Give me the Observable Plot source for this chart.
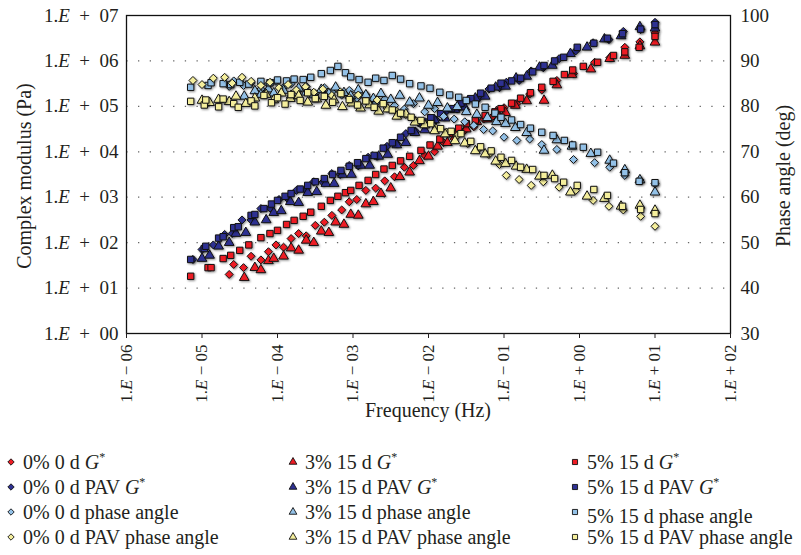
<!DOCTYPE html>
<html>
<head>
<meta charset="utf-8">
<script src="https://cdn.jsdelivr.net/npm/d3@7"></script>
<script src="https://cdn.jsdelivr.net/npm/@observablehq/plot@0.6"></script>
<style>
  body { margin: 0; background: #fff; }
  #chart { position: relative; width: 801px; height: 555px; overflow: hidden;
           font-family: "Liberation Serif", "DejaVu Serif", serif; color: #231f20; }
  #chart svg.layer { position: absolute; left: 0; top: 0; }
  .title { position: absolute; font-size: 20px; white-space: nowrap; transform: translate(-50%, -50%); }
  .title.vert { transform: translate(-50%, -50%) rotate(-90deg); }
  .item { position: absolute; font-size: 20px; white-space: nowrap; line-height: 1; transform: translateY(-50%); }
  .item sup { font-size: 12px; vertical-align: 8px; line-height: 0; }
  .mk { position: absolute; }
</style>
</head>
<body>
<div id="chart"></div>
<script>
// Frequencies are stored as log10(Hz), moduli as log10(Pa), phase angles in degrees.

// 0% 0 d (diamonds)
const lfA = [-4.64,-4.58,-4.45,-4.35,-4.22,-4.12,-4.02,-3.92,-3.82,-3.72,-3.62,-3.5,-3.38,-3.28,-3.15,-3.05,-2.95,-2.83,-2.7,-2.58,-2.45,-2.32,-2.2,-2.05,-1.92,-1.8,-1.66,-1.52,-1.4,-1.27,-1.15,-1.0,-0.83,-0.66,-0.5,-0.3,-0.08,0.2,0.4,0.6,0.8,1.0];
const gA = [1.3,1.52,1.45,1.7,1.62,1.8,1.95,1.9,2.09,2.2,2.15,2.38,2.45,2.6,2.72,2.9,2.95,3.15,3.2,3.36,3.45,3.66,3.7,3.92,4.0,4.2,4.28,4.47,4.55,4.72,4.78,4.97,5.06,5.27,5.36,5.57,5.72,5.97,6.07,6.3,6.42,6.62];
const phA = [84.4,85.6,84.6,85.2,83.8,84.9,85.5,84.2,85,83.6,84.4,82.8,84.1,83.2,82.5,83.5,81.8,82.6,80.7,81.6,80.2,79.4,80.6,78.8,79.5,77.8,77.2,76.6,75.8,74.9,74.6,73.2,72.5,72.8,71.6,70.5,68.3,67.6,66.6,64.8,63.8,63];

// 0% 0 d PAV (diamonds)
const lfB = [-5.12,-5.0,-4.85,-4.7,-4.6,-4.47,-4.35,-4.22,-4.1,-3.98,-3.86,-3.75,-3.63,-3.52,-3.4,-3.28,-3.17,-3.05,-2.93,-2.8,-2.68,-2.55,-2.42,-2.3,-2.17,-2.04,-1.9,-1.76,-1.62,-1.48,-1.34,-1.2,-1.06,-0.97,-0.8,-0.64,-0.48,-0.27,-0.05,0.18,0.39,0.58,0.81,1.0];
const gB = [1.63,1.85,1.95,2.18,2.2,2.5,2.5,2.75,2.76,2.95,2.96,3.15,3.16,3.34,3.33,3.52,3.5,3.7,3.69,3.88,3.9,4.12,4.18,4.4,4.45,4.66,4.7,4.9,4.94,5.14,5.18,5.38,5.41,5.53,5.57,5.78,5.85,6.05,6.22,6.4,6.47,6.65,6.69,6.85];
const phB = [85.7,84.8,86.2,86.4,85.1,86.4,85.5,84.6,85.3,84.1,84.8,83.6,84.3,83.1,83.8,82.4,83.2,81.9,82.5,80.8,81.4,79.6,78.9,78.2,76.9,76.1,75.2,74.3,73.6,71.8,70.6,69.4,67.2,64.8,63.9,62.6,63.4,62.2,61.5,59.3,58,57.2,55.8,53.6];

// 3% 15 d (triangles)
const lfC = [-4.44,-4.3,-4.22,-4.12,-4.05,-3.92,-3.82,-3.72,-3.62,-3.52,-3.42,-3.32,-3.23,-3.12,-3.03,-2.93,-2.83,-2.73,-2.63,-2.5,-2.38,-2.25,-2.12,-2.0,-1.88,-1.75,-1.62,-1.5,-1.36,-1.22,-1.1,-0.98,-0.85,-0.7,-0.47,-0.3,-0.1,0.15,0.4,0.6,0.8,1.0];
const gC = [1.23,1.45,1.4,1.6,1.65,1.7,1.88,1.83,2.05,2.0,2.25,2.22,2.45,2.4,2.62,2.6,2.85,2.9,3.08,3.2,3.45,3.55,3.8,3.9,4.12,4.2,4.43,4.5,4.66,4.72,4.88,4.86,5.02,5.12,5.13,5.47,5.7,5.82,6.05,6.12,6.33,6.41];
const phC = [82.2,83.4,82.6,83.8,82.9,83.5,82.4,84,83.1,82.5,83.7,82.8,84.2,83,82.3,83.6,82.5,81.7,82.8,81.5,82.4,80.9,81.8,80.2,80.8,79.6,79.9,78.8,78.2,77.5,76.6,76.2,75.3,74.2,70.3,72.6,71.2,69.6,68.1,66,63.8,61.1];

// 3% 15 d PAV (triangles)
const lfD = [-5.0,-4.9,-4.78,-4.64,-4.55,-4.42,-4.3,-4.15,-4.05,-3.95,-3.83,-3.72,-3.6,-3.48,-3.36,-3.25,-3.14,-3.02,-2.9,-2.78,-2.66,-2.54,-2.42,-2.3,-2.18,-2.05,-1.92,-1.78,-1.65,-1.52,-1.38,-1.25,-1.11,-0.98,-0.84,-0.7,-0.53,-0.36,-0.12,0.1,0.33,0.55,0.8,1.0];
const gD = [1.65,1.72,1.92,2.0,2.2,2.22,2.45,2.5,2.66,2.7,2.9,2.88,3.1,3.12,3.3,3.3,3.5,3.5,3.7,3.7,3.9,3.94,4.15,4.2,4.42,4.48,4.7,4.74,4.93,4.98,5.18,5.22,5.42,5.44,5.62,5.66,5.86,5.9,6.16,6.3,6.48,6.55,6.75,6.72];
const phD = [81.3,80.8,81.5,81,82.2,80.6,81.8,82.6,81.4,82.9,81.7,82.3,80.9,81.6,80.2,81.4,79.9,80.7,79.6,80.3,78.9,79.4,77.8,78.3,76.5,75.9,74.6,73.9,72.4,71.9,70.2,69.5,67.9,67.4,66.8,66.1,64.6,64.8,61.1,60.2,59.7,58,58.2,57.1];

// 5% 15 d (squares)
const lfE = [-5.15,-4.92,-4.88,-4.72,-4.62,-4.5,-4.38,-4.22,-4.1,-4.0,-3.88,-3.78,-3.66,-3.56,-3.42,-3.3,-3.2,-3.1,-3.03,-2.92,-2.8,-2.7,-2.59,-2.48,-2.37,-2.25,-2.1,-1.98,-1.85,-1.72,-1.6,-1.5,-1.38,-1.25,-1.12,-1.04,-0.9,-0.78,-0.65,-0.5,-0.35,-0.2,-0.09,0.05,0.24,0.45,0.6,0.79,1.0];
const gE = [1.26,1.45,1.45,1.65,1.72,1.83,1.95,2.11,2.2,2.27,2.4,2.49,2.58,2.67,2.8,2.93,3.02,3.1,3.15,3.26,3.37,3.5,3.62,3.7,3.8,3.9,4.03,4.15,4.28,4.4,4.52,4.62,4.7,4.8,4.88,4.95,5.07,5.18,5.3,5.42,5.55,5.7,5.8,5.88,5.97,6.12,6.2,6.3,6.54];
const phE = [84.2,84.6,85.2,85,84.8,85.3,84.9,85.5,85.2,85.8,85.6,86,85.9,86.4,87.2,87.9,88.8,87.4,86.5,85.9,85.3,86.2,85.7,86.8,86,85,84.5,84,83.1,82.5,82,81.3,80.5,79.8,78.5,77.6,77,76,75.2,74.3,73.6,72.5,71.5,71,69.9,67.5,65.4,63.5,63.2];

// 5% 15 d PAV (squares)
const lfF = [-5.15,-4.97,-4.95,-4.78,-4.72,-4.58,-4.52,-4.35,-4.3,-4.18,-4.08,-4.0,-3.9,-3.82,-3.7,-3.6,-3.5,-3.38,-3.27,-3.16,-3.05,-2.94,-2.83,-2.72,-2.6,-2.48,-2.37,-2.23,-2.1,-1.97,-1.84,-1.7,-1.57,-1.44,-1.31,-1.17,-1.04,-0.9,-0.78,-0.62,-0.47,-0.33,-0.21,-0.03,0.19,0.37,0.57,0.81,1.0];
const gF = [1.63,1.87,1.92,2.1,2.13,2.33,2.35,2.6,2.62,2.75,2.85,2.93,3.02,3.08,3.18,3.26,3.34,3.41,3.5,3.59,3.68,3.76,3.85,3.92,4.08,4.2,4.32,4.47,4.63,4.75,4.84,4.95,5.07,5.17,5.29,5.4,5.51,5.56,5.62,5.76,5.9,6.0,6.08,6.3,6.39,6.5,6.6,6.7,6.8];
const phF = [81.1,80.3,81.4,79.9,81.6,80.6,79.8,81.2,80.1,82.4,80.8,81.9,80.5,82.6,81.3,83,81.7,82.2,80.9,82.8,81.5,80.3,81.2,79.8,80.6,79.2,78.5,77.6,76.9,76.2,75.1,74.5,74,72.3,71.1,70.2,68.8,68.1,66.6,66.1,64.8,64.1,63.3,62.6,61.7,60.4,58,57.3,56.4];

// Legend labels, row by row
const legendLabels = [
  "0% 0 d G*", "3% 15 d G*", "5% 15 d G*",
  "0% 0 d PAV G*", "3% 15 d PAV G*", "5% 15 d PAV G*",
  "0% 0 d phase angle", "3% 15 d phase angle", "5% 15 d phase angle",
  "0% 0 d PAV phase angle", "3% 15 d PAV phase angle", "5% 15 d PAV phase angle"
];

// Axis ticks
const freqTicks = [1e-6, 1e-5, 1e-4, 1e-3, 1e-2, 1e-1, 1e0, 1e1, 1e2];
const modulusTicks = [1e0, 1e1, 1e2, 1e3, 1e4, 1e5, 1e6, 1e7];
const phaseTicks = [30, 40, 50, 60, 70, 80, 90, 100];
const gridLevels = [1e1, 1e2, 1e3, 1e4, 1e5, 1e6];

const RED = "#ed1c24", NAVY = "#2e3192", SKY = "#93c1e7", SAND = "#f4ee9c";

const groups = [
  {lf: lfA, g: gA, ph: phA, symbol: "diamond2", gFill: RED,  phFill: SKY},
  {lf: lfC, g: gC, ph: phC, symbol: "triangle", gFill: RED,  phFill: SKY},
  {lf: lfE, g: gE, ph: phE, symbol: "square",   gFill: RED,  phFill: SKY},
  {lf: lfB, g: gB, ph: phB, symbol: "diamond2", gFill: NAVY, phFill: SAND},
  {lf: lfD, g: gD, ph: phD, symbol: "triangle", gFill: NAVY, phFill: SAND},
  {lf: lfF, g: gF, ph: phF, symbol: "square",   gFill: NAVY, phFill: SAND}
];

const rowsOf = (grp) => grp.lf.map((l, i) => ({f: 10 ** l, g: 10 ** grp.g[i], ph: grp.ph[i]}));

const W = 801, H = 400;
const margins = {marginTop: 15, marginRight: 71, marginBottom: 67, marginLeft: 126};
const FONT = '"Liberation Serif", "DejaVu Serif", serif';

// "1.E + 07" style labels; the y axis uses wider gaps than the x axis
const sciLabel = (gap) => (v) => {
  const e = Math.round(Math.log10(v));
  return "1.E" + gap + (e < 0 ? "\u2212" : "+") + gap + String(Math.abs(e)).padStart(2, "0");
};

const dotOpts = {stroke: "#111", strokeWidth: 1, r: 3.6};

const modulusPlot = Plot.plot({
  width: W, height: H, ...margins,
  style: {fontFamily: FONT, background: "transparent", color: "#231f20", overflow: "visible"},
  x: {type: "log", domain: [1e-6, 1e2]},
  y: {type: "log", domain: [1, 1e7]},
  marks: [
    Plot.ruleY(gridLevels, {stroke: "#666", strokeWidth: 1.3, strokeDasharray: "1.3 10.4", strokeDashoffset: -12}),
    ...groups.map(grp => Plot.dot(rowsOf(grp), {x: "f", y: "g", symbol: grp.symbol, fill: grp.gFill, ...dotOpts})),
    Plot.frame({stroke: "#111", strokeWidth: 1.3}),
    Plot.axisX(freqTicks, {tickFormat: sciLabel(" "), tickRotate: -90, tickSize: 5, tickPadding: 6, fontSize: 17, label: null}),
    Plot.axisY(modulusTicks, {tickFormat: sciLabel("\u2002"), tickSize: 0, tickPadding: 8, fontSize: 19, label: null})
  ]
});

const phasePlot = Plot.plot({
  width: W, height: H, ...margins,
  style: {fontFamily: FONT, background: "transparent", color: "#231f20", overflow: "visible"},
  x: {type: "log", domain: [1e-6, 1e2], axis: null},
  y: {domain: [30, 100]},
  marks: [
    ...groups.map(grp => Plot.dot(rowsOf(grp), {x: "f", y: "ph", symbol: grp.symbol, fill: grp.phFill, ...dotOpts})),
    Plot.axisY(phaseTicks, {anchor: "right", tickSize: 0, tickPadding: 10, fontSize: 19, label: null})
  ]
});

const chart = document.getElementById("chart");
for (const svg of [modulusPlot, phasePlot]) {
  svg.classList.add("layer");
  chart.appendChild(svg);
  // soft shadow behind every marker
  svg.querySelectorAll('g[aria-label="dot"]').forEach(g => {
    g.style.filter = "drop-shadow(1.3px 1.3px 0.9px rgba(0,0,0,0.45))";
  });
}

// italic E in the scientific tick labels
modulusPlot.querySelectorAll('g[aria-label$="tick label"] text').forEach(t => {
  const s = t.textContent;
  if (!s.startsWith("1.E")) return;
  t.textContent = "";
  const ns = "http://www.w3.org/2000/svg";
  const a = document.createElementNS(ns, "tspan"); a.textContent = "1.";
  const b = document.createElementNS(ns, "tspan"); b.textContent = "E"; b.setAttribute("font-style", "italic");
  const c = document.createElementNS(ns, "tspan"); c.textContent = s.slice(3);
  t.append(a, b, c);
});

// axis titles
function addTitle(text, x, y, vertical) {
  const d = document.createElement("div");
  d.className = "title" + (vertical ? " vert" : "");
  d.style.left = x + "px"; d.style.top = y + "px";
  d.textContent = text;
  chart.appendChild(d);
}
addTitle("Complex modulus (Pa)", 24, 176, true);
addTitle("Phase angle (deg)", 783, 176, true);
addTitle("Frequency (Hz)", 428, 410, false);

// legend: three columns, four rows
const legendSymbols = ["diamond2", "triangle", "square"];
const legendFills = [RED, NAVY, SKY, SAND];
const colX = [11, 293, 575];
const rowY = [462, 487, 512, 537];
const symbolPath = {diamond2: d3.symbolDiamond2, triangle: d3.symbolTriangle, square: d3.symbolSquare};
legendLabels.forEach((label, i) => {
  const row = Math.floor(i / 3), col = i % 3;
  const x = colX[col], y = rowY[row];
  const mk = d3.create("svg").attr("class", "mk").attr("width", 12).attr("height", 12)
    .style("left", (x - 6) + "px").style("top", (y - 6) + "px");
  mk.append("path").attr("transform", "translate(6,6)")
    .attr("d", d3.symbol(symbolPath[legendSymbols[col]], 26)())
    .attr("fill", legendFills[row]).attr("stroke", "#111").attr("stroke-width", 0.9);
  chart.appendChild(mk.node());
  const t = document.createElement("div");
  t.className = "item";
  t.style.left = (x + 12) + "px";
  t.style.top = (y + (row === 2 && col === 2 ? 4 : 0)) + "px";
  if (label.endsWith("G*")) {
    t.innerHTML = label.slice(0, -2) + "<i>G</i><sup>*</sup>";
  } else {
    t.textContent = label;
  }
  chart.appendChild(t);
});
</script>
</body>
</html>
